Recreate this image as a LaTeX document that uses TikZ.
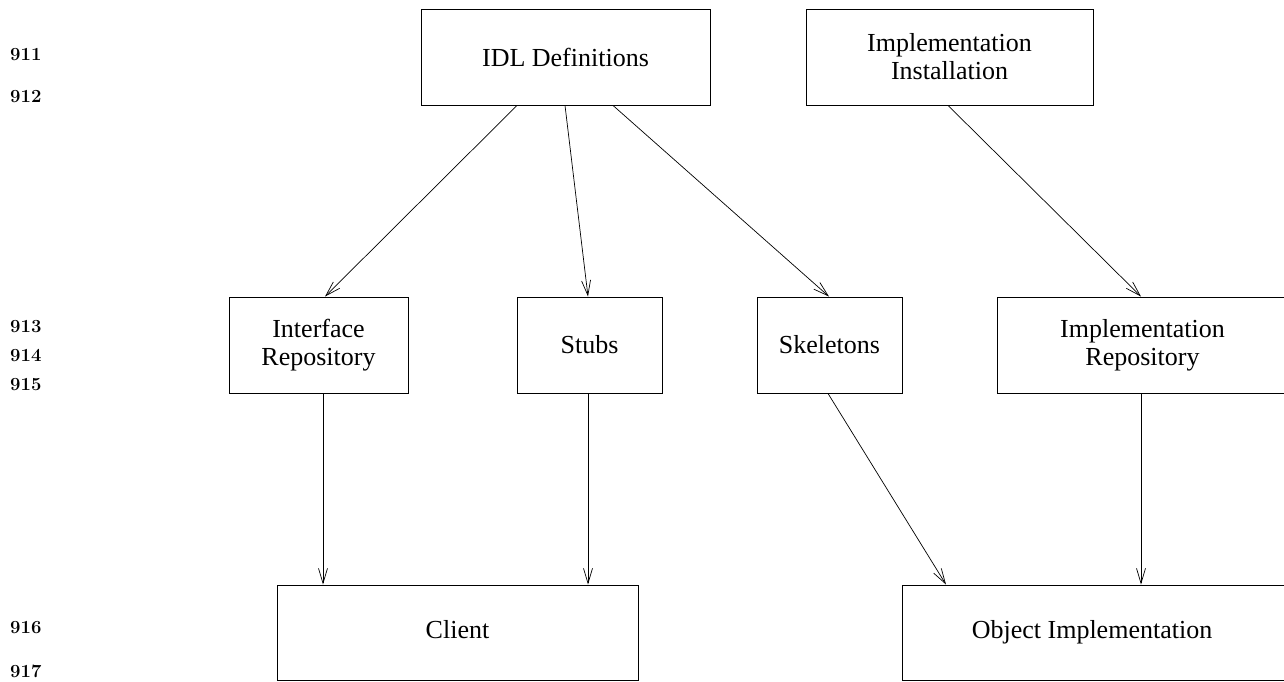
\documentclass[tikz,border=0pt]{standalone}
\usepackage{fontspec}
\newfontfamily\boxfont{Liberation Serif}
\usetikzlibrary{arrows.meta}
\begin{document}
\begin{tikzpicture}[x=1pt,y=-1pt,
  box/.style={draw, line width=0.9pt, inner sep=0pt, align=center,
    font=\boxfont\fontsize{26}{28}\selectfont},
  arr/.style={-{Straight Barb[length=15pt,width=9pt]}, line width=0.7pt},
  num/.style={anchor=west, inner sep=0pt, font=\bfseries\fontsize{18.5}{20}\selectfont}]
\useasboundingbox (0,0) rectangle (1284,681);
% line numbers
\node[num] (n911) at (10,55) {911};
\node[num] (n912) at (10,97) {912};
\node[num] (n913) at (10,327) {913};
\node[num] (n914) at (10,356) {914};
\node[num] (n915) at (10,385) {915};
\node[num] (n916) at (10,628) {916};
\node[num] (n917) at (10,671) {917};
% boxes
\node[box, minimum width=289, minimum height=96] (idl) at (565.5,57) {IDL Definitions};
\node[box, minimum width=287, minimum height=96] (inst) at (949.5,57) {Implementation\\Installation};
\node[box, minimum width=179, minimum height=96] (ir) at (318.5,345) {Interface\\Repository};
\node[box, minimum width=145, minimum height=96] (stubs) at (589.5,345) {Stubs};
\node[box, minimum width=145, minimum height=96] (skel) at (829.5,345) {Skeletons};
\node[box, minimum width=291, minimum height=96] (irep) at (1142.5,345) {Implementation\\Repository};
\node[box, minimum width=361, minimum height=95] (client) at (457.5,632.5) {Client\strut};
\node[box, minimum width=390, minimum height=95] (obj) at (1097,632.5) {Object Implementation\strut\hspace*{10pt}};
% connectors
\draw[arr] ([xshift=-48.5]idl.south) -- ([xshift=6.5]ir.north);
\draw[arr] ([xshift=-0.5]idl.south) -- ([xshift=-1.5]stubs.north);
\draw[arr] ([xshift=47.5]idl.south) -- ([xshift=-0.5]skel.north);
\draw[arr] ([xshift=-1.5]inst.south) -- ([xshift=-1.5]irep.north);
\draw[arr] ([xshift=4.5]ir.south) -- ([xshift=-134.5]client.north);
\draw[arr] ([xshift=-1.5]stubs.south) -- ([xshift=130.5]client.north);
\draw[arr] ([xshift=-1.5]skel.south) -- ([xshift=-151]obj.north);
\draw[arr] ([xshift=-1.5]irep.south) -- ([xshift=44]obj.north);
\end{tikzpicture}
\end{document}
